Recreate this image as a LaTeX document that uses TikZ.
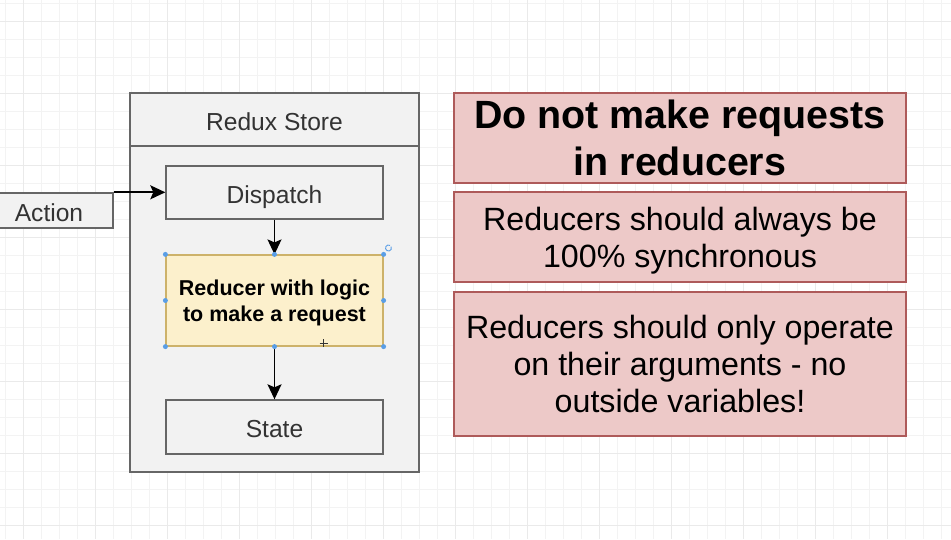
\documentclass[tikz,border=0pt]{standalone}
\usepackage{fontspec}
\setmainfont{Liberation Sans}
\usetikzlibrary{arrows.meta,calc}
\definecolor{gridc}{HTML}{F3F3F3}
\definecolor{gridm}{HTML}{EAEAEA}
\definecolor{boxfill}{HTML}{F2F2F2}
\definecolor{boxline}{HTML}{666666}
\definecolor{redfill}{HTML}{EDC9C8}
\definecolor{redline}{HTML}{AE5A5A}
\definecolor{yelfill}{HTML}{FCF0CC}
\definecolor{yelline}{HTML}{CDB26A}
\definecolor{handle}{HTML}{5A9EE6}
\definecolor{txt}{HTML}{333333}
\begin{document}
\begin{tikzpicture}[x=1pt,y=-1pt,
  graybox/.style={draw=boxline, fill=boxfill, line width=1.4pt, text=txt,
    font=\fontsize{24.6}{29}\selectfont, inner sep=0pt, text height=21pt, text depth=0pt},
  storebox/.style={draw=boxline, fill=boxfill, line width=1.6pt, inner sep=0pt},
  reducerbox/.style={draw=yelline, fill=yelfill, line width=1.2pt, text=black,
    font=\fontsize{21.5}{26}\bfseries\selectfont, align=center, inner sep=0pt, text depth=0pt},
  notebox/.style={draw=redline, fill=redfill, line width=1.4pt, text=black,
    align=center, inner sep=0pt, minimum width=452pt},
  arr/.style={-{Stealth[length=15pt,width=14pt,inset=3pt]}, line width=1.8pt, black},
  hdl/.style={fill=handle, draw=none, circle, minimum size=5pt, inner sep=0pt},
  plain/.style={inner sep=0pt}
]
\useasboundingbox (0,0) rectangle (951,539);
\clip (0,0) rectangle (951,539);
\fill[white] (0,0) rectangle (951,539);
% grid
\foreach \x in {5,23,...,951} {\draw[gridc, line width=0.8pt] (\x,0) -- (\x,539);}
\foreach \y in {3,21,...,539} {\draw[gridc, line width=0.8pt] (0,\y) -- (951,\y);}
\foreach \x in {23,95,...,951} {\draw[gridm, line width=0.8pt] (\x,0) -- (\x,539);}
\foreach \y in {21,93,...,539} {\draw[gridm, line width=0.8pt] (0,\y) -- (951,\y);}

% store
\node[storebox, minimum width=289pt, minimum height=379pt] (store) at (274.5,282.5) {};
\draw[boxline, line width=1.6pt] ($(store.north west)+(0,54)$) coordinate (hl) -- ($(store.north east)+(0,54)$) coordinate (hr);
\node[plain, text=txt, font=\fontsize{24.6}{29}\selectfont] (title) at (274.5,122) {Redux Store};

\node[graybox, minimum width=217pt, minimum height=53pt] (dispatch) at (274.5,192.5) {Dispatch};
\node[reducerbox, minimum width=217pt, minimum height=91pt] (reducer) at (274.5,300.5) {Reducer with logic\\to make a request};
\node[graybox, minimum width=217pt, minimum height=54pt] (state) at (274.5,427) {State};
\node[graybox, minimum width=128pt, minimum height=35pt] (action) at (49,210.5) {Action};

\draw[arr] (action.north east) -- (action.north east -| dispatch.west);
\draw[arr] (dispatch.south) -- (reducer.north);
\draw[arr] (reducer.south) -- (state.north);

% selection handles
\foreach \a in {north west,north,north east,west,east,south west,south,south east}
  {\node[hdl] at (reducer.\a) {};}
\coordinate (rot) at (388.5,248);
\draw[handle, line width=0.9pt] ([shift={(60:3pt)}]rot) arc[start angle=60, end angle=390, radius=3pt];
% move cursor
\coordinate (cur) at (323.5,343);
\draw[black!80, line width=1pt] ($(cur)+(-4,0)$) -- ($(cur)+(4,0)$);
\draw[black!80, line width=1pt] ($(cur)+(0,-4)$) -- ($(cur)+(0,4)$);

% notes
\node[notebox, minimum height=90pt, font=\fontsize{39.4}{46.5}\bfseries\selectfont] (n1) at (680,138) {Do not make requests\\in reducers};
\node[notebox, minimum height=90pt, text depth=0pt, font=\fontsize{32.2}{36.7}\selectfont] (n2) at (680,237) {Reducers should always be\\100\% synchronous};
\node[notebox, minimum height=144pt, font=\fontsize{32.2}{36.7}\selectfont] (n3) at (680,364) {Reducers should only operate\\on their arguments - no\\outside variables!};
\end{tikzpicture}
\end{document}
